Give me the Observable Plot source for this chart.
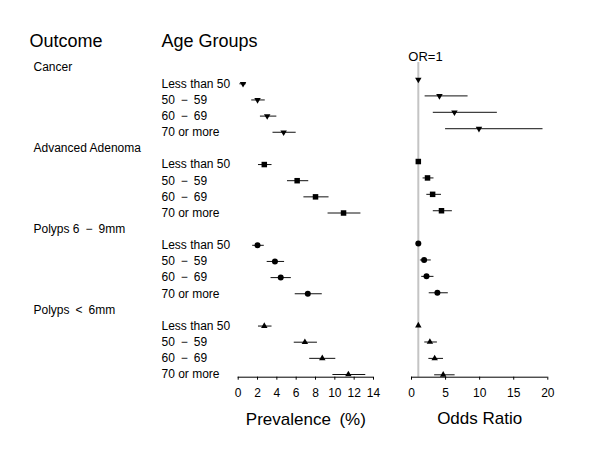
<!DOCTYPE html>
<html><head><meta charset="utf-8">
<script src="https://cdn.jsdelivr.net/npm/d3@7"></script>
<script src="https://cdn.jsdelivr.net/npm/@observablehq/plot@0.6"></script>
<style>
body{margin:0;background:#fff;}
#chart{display:flex;width:600px;height:464px;font-family:"Liberation Sans",Arial,sans-serif;}
#chart svg{display:block;}
</style></head><body><div id="chart"></div>
<script>
const outcomes = ["Cancer", "Advanced Adenoma", "Polyps 6\u2002\u2212\u20029mm", "Polyps\u2002<\u20026mm"];
const ageGroups = ["Less than 50", "50\u2002\u2212\u200259", "60\u2002\u2212\u200269", "70 or more"];

// Prevalence (%) by outcome (rows) and age group (columns)
const prevEst = [[0.5, 2.0, 3.0, 4.7], [2.7, 6.1, 8.0, 10.9], [2.0, 3.8, 4.4, 7.2], [2.7, 6.9, 8.7, 11.4]];
const prevLo  = [[0.17, 1.4, 2.3, 3.6], [2.1, 5.1, 6.8, 9.3], [1.5, 3.0, 3.4, 5.9], [2.1, 5.8, 7.4, 9.8]];
const prevHi  = [[0.83, 2.8, 4.0, 6.0], [3.5, 7.3, 9.4, 12.7], [2.7, 4.8, 5.5, 8.7], [3.5, 8.2, 10.1, 13.2]];

// Odds ratios (reference group < 50 = 1)
const orEst = [[1, 4.1, 6.3, 9.9], [1, 2.35, 3.1, 4.4], [1, 1.85, 2.2, 3.8], [1, 2.7, 3.4, 4.65]];
const orLo  = [[null, 2.0, 3.2, 5.0], [null, 1.7, 2.25, 3.2], [null, 1.3, 1.5, 2.6], [null, 1.95, 2.55, 3.4]];
const orHi  = [[null, 8.3, 12.6, 19.3], [null, 3.3, 4.4, 6.0], [null, 2.9, 3.3, 5.4], [null, 3.8, 4.7, 6.4]];

const prevTicks = [0, 2, 4, 6, 8, 10, 12, 14];
const orTicks = [0, 5, 10, 15, 20];

const triangleDown = {
  draw(ctx, size) {
    const y = -Math.sqrt(size / (3 * Math.sqrt(3)));
    ctx.moveTo(0, -2 * y);
    ctx.lineTo(Math.sqrt(3) * y, y);
    ctx.lineTo(-Math.sqrt(3) * y, y);
    ctx.closePath();
  }
};
const symbols = [triangleDown, "square", "circle", "triangle"];
const radii = [2.4, 3.1, 3.0, 2.4];

const rows = outcomes.flatMap((o, g) => ageGroups.map((a, i) => ({
  g, outcome: o, age: a, slot: g * 5 + i,
  prev: prevEst[g][i], prevLo: prevLo[g][i], prevHi: prevHi[g][i],
  or: orEst[g][i], orLo: orLo[g][i], orHi: orHi[g][i]
})));
const headers = outcomes.map((o, g) => ({o, slot: g * 5 - 1}));
const lastSlot = d3.max(rows, d => d.slot);

const font = '"Liberation Sans", Arial, sans-serif';
const baseStyle = {fontFamily: font, fontSize: "12px", background: "transparent", color: "#000"};

const dotMarks = (field) => symbols.map((s, g) =>
  Plot.dot(rows.filter(d => d.g === g), {x: field, y: "slot", symbol: s, r: radii[g], fill: "#000"}));

const left = Plot.plot({
  width: 400, height: 464,
  marginLeft: 237.7, marginRight: 27, marginTop: 0, marginBottom: 87.3,
  style: baseStyle,
  x: {domain: [d3.min(prevTicks), d3.max(prevTicks)]},
  y: {domain: [0, lastSlot], range: [83.3, 374], axis: null},
  marks: [
    Plot.ruleY([lastSlot], {y: d => d, dy: 2.7, x1: d3.min(prevTicks), x2: d3.max(prevTicks), stroke: "#000"}),
    Plot.axisX({ticks: prevTicks, tickSize: 3, tickPadding: 8, fontSize: 12, label: null}),
    Plot.ruleY(rows, {y: "slot", x1: "prevLo", x2: "prevHi", stroke: "#111"}),
    ...dotMarks("prev"),
    Plot.text(headers, {y: "slot", text: "o", frameAnchor: "left", dx: -204.7, textAnchor: "start", lineAnchor: "middle", fontSize: 12}),
    Plot.text(rows, {y: "slot", text: "age", frameAnchor: "left", dx: -76.7, textAnchor: "start", lineAnchor: "middle", fontSize: 12}),
    Plot.text(["Outcome"], {text: d => d, frameAnchor: "top-left", dx: -208.7, dy: 41, textAnchor: "start", lineAnchor: "middle", fontSize: 18}),
    Plot.text(["Age Groups"], {text: d => d, frameAnchor: "top-left", dx: -76.7, dy: 41, textAnchor: "start", lineAnchor: "middle", fontSize: 18}),
    Plot.text(["Prevalence\u2002(%)"], {text: d => d, frameAnchor: "bottom", dy: 42, lineAnchor: "middle", fontSize: 17})
  ]
});

const right = Plot.plot({
  width: 200, height: 464,
  marginLeft: 11, marginRight: 52.7, marginTop: 0, marginBottom: 87.3,
  style: baseStyle,
  x: {domain: [d3.min(orTicks), d3.max(orTicks)]},
  y: {domain: [0, lastSlot], range: [79, 374.3], axis: null},
  marks: [
    Plot.ruleX([1], {stroke: "#c4c4c4", strokeWidth: 2, insetTop: 62}),
    Plot.ruleY([lastSlot], {y: d => d, dy: 2.4, x1: d3.min(orTicks), x2: d3.max(orTicks), stroke: "#000"}),
    Plot.axisX({ticks: orTicks, tickSize: 3, tickPadding: 8, fontSize: 12, label: null}),
    Plot.ruleY(rows.filter(d => d.orLo != null), {y: "slot", x1: "orLo", x2: "orHi", stroke: "#111"}),
    ...dotMarks("or"),
    Plot.text(["OR=1"], {x: 1, text: d => d, frameAnchor: "top", dy: 56, dx: -10, textAnchor: "start", lineAnchor: "middle", fontSize: 13}),
    Plot.text(["Odds Ratio"], {text: d => d, frameAnchor: "bottom", dy: 41, lineAnchor: "middle", fontSize: 17})
  ]
});

document.getElementById("chart").append(left, right);
</script></body></html>
